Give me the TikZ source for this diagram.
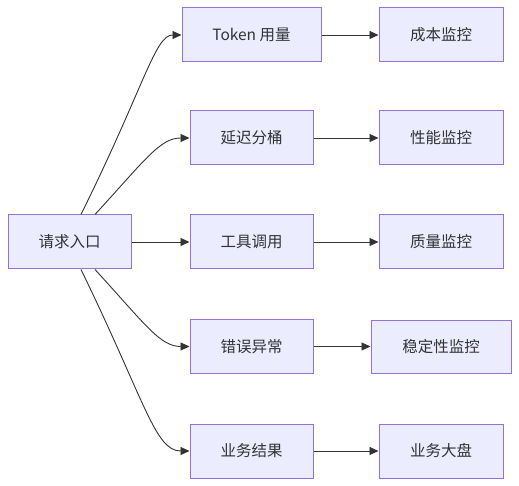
\documentclass[tikz,border=0pt]{standalone}
\usepackage{fontspec}
\setmainfont{Noto Sans CJK SC}
\usetikzlibrary{arrows.meta}
\definecolor{boxfill}{HTML}{ECECFF}
\definecolor{boxline}{HTML}{9370DB}
\definecolor{ink}{HTML}{333333}
\begin{document}
\begin{tikzpicture}[x=1pt, y=-1pt,
    box/.style={draw=boxline, fill=boxfill, line width=1pt, inner sep=0pt,
      minimum width=123pt, minimum height=54pt, text=ink,
      font=\fontsize{15.5}{18}\selectfont},
    link/.style={draw=ink, line width=0.9pt, -{Triangle[length=9pt, width=8pt]}}]
    \useasboundingbox (0,0) rectangle (519,486);
    % source
    \node[box] (req) at (69.5,242) {请求入口};
    % middle column
    \node[box, minimum width=139pt] (token) at (251.5,35) {Token 用量};
    \node[box] (latency) at (251.5,138) {延迟分桶};
    \node[box] (tool) at (251.5,242) {工具调用};
    \node[box] (error) at (251.5,346.5) {错误异常};
    \node[box] (result) at (251.5,451) {业务结果};
    % right column
    \node[box, minimum width=124pt] (cost) at (441,35) {成本监控};
    \node[box, minimum width=124pt] (perf) at (441,138) {性能监控};
    \node[box, minimum width=124pt] (quality) at (441,242) {质量监控};
    \node[box, minimum width=140pt, minimum height=53pt] (stable) at (441,346.5) {稳定性监控};
    \node[box, minimum width=124pt] (board) at (441,451) {业务大盘};
    % fan out
    \draw[link] ([xshift=11.5pt]req.north) .. controls (145,85) and (155,35) .. (token.west);
    \draw[link] ([xshift=25.5pt]req.north) .. controls (145,160) and (160,138) .. (latency.west);
    \draw[link] (req.east) -- (tool.west);
    \draw[link] ([xshift=25.5pt]req.south) .. controls (145,324) and (160,346.5) .. (error.west);
    \draw[link] ([xshift=11.5pt]req.south) .. controls (145,401) and (155,451) .. (result.west);
    % straight on
    \draw[link] (token) -- (cost);
    \draw[link] (latency) -- (perf);
    \draw[link] (tool) -- (quality);
    \draw[link] (error) -- (stable);
    \draw[link] (result) -- (board);
\end{tikzpicture}
\end{document}
